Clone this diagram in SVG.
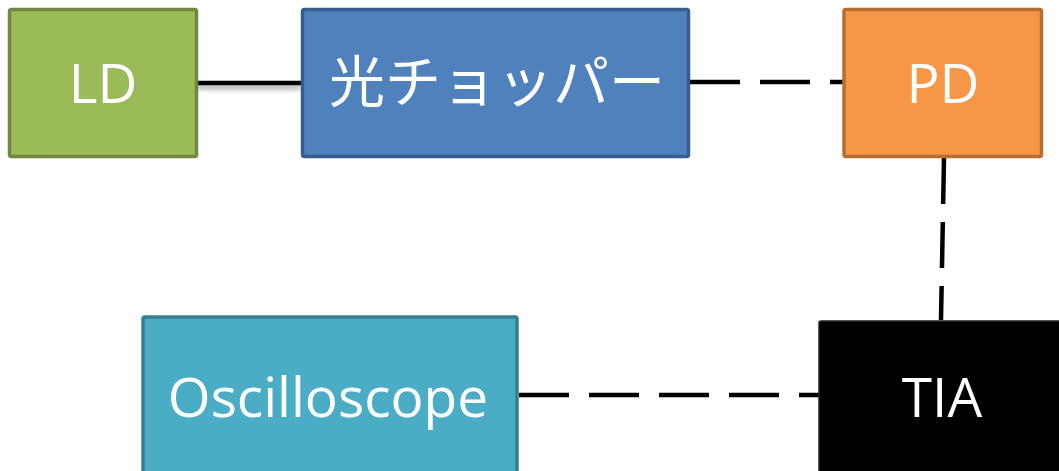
<svg xmlns="http://www.w3.org/2000/svg" width="1059" height="471" viewBox="0 0 1059 471">
<defs>
<filter id="sh" filterUnits="userSpaceOnUse" x="180" y="60" width="140" height="50">
<feGaussianBlur in="SourceAlpha" stdDeviation="2.5"/>
<feOffset dx="0" dy="4" result="b"/>
<feComponentTransfer><feFuncA type="linear" slope="0.35"/></feComponentTransfer>
<feMerge><feMergeNode/><feMergeNode in="SourceGraphic"/></feMerge>
</filter>
</defs>
<style>
.box{stroke-width:3.5}
.lbl{font-family:"Open Sans","Noto Sans","Noto Sans CJK JP",sans-serif;font-size:55px;fill:#fff;text-anchor:middle}
.jp{font-family:"Noto Sans CJK JP","Noto Sans",sans-serif;font-size:56px;fill:#fff;text-anchor:middle}
.c{stroke:#000;stroke-width:4.5;fill:none}
.d{stroke-dasharray:50 20}
</style>
<g id="connectors">
<line class="c" x1="197" y1="83" x2="301" y2="83" filter="url(#sh)"/>
<line class="c d" x1="690" y1="82" x2="843" y2="82"/>
<line class="c d" x1="944" y1="158" x2="941" y2="320" style="stroke-dasharray:46 18"/>
<line class="c d" x1="519" y1="395" x2="819" y2="395"/>
</g>
<g id="LD">
<rect class="box" x="9.5" y="9.5" width="187" height="147" rx="2" fill="#9BBB59" stroke="#71893F"/>
<text class="lbl" x="103" y="103">LD</text>
</g>
<g id="chopper">
<rect class="box" x="302.5" y="9.5" width="386" height="147" rx="2" fill="#4F81BD" stroke="#385D8A"/>
<text class="jp" x="497" y="102">光チョッパー</text>
</g>
<g id="PD">
<rect class="box" x="844" y="9.5" width="197.5" height="147" rx="2" fill="#F79646" stroke="#B66D31"/>
<text class="lbl" x="943" y="103">PD</text>
</g>
<g id="TIA">
<rect x="819" y="321" width="250" height="160" rx="2" fill="#000" stroke="#222" stroke-width="1.5"/>
<text class="lbl" x="942" y="417">TIA</text>
</g>
<g id="Oscilloscope">
<rect class="box" x="143" y="317" width="374" height="170" rx="2" fill="#4BACC6" stroke="#357D91"/>
<text class="lbl" x="328" y="417">Oscilloscope</text>
</g>
</svg>
